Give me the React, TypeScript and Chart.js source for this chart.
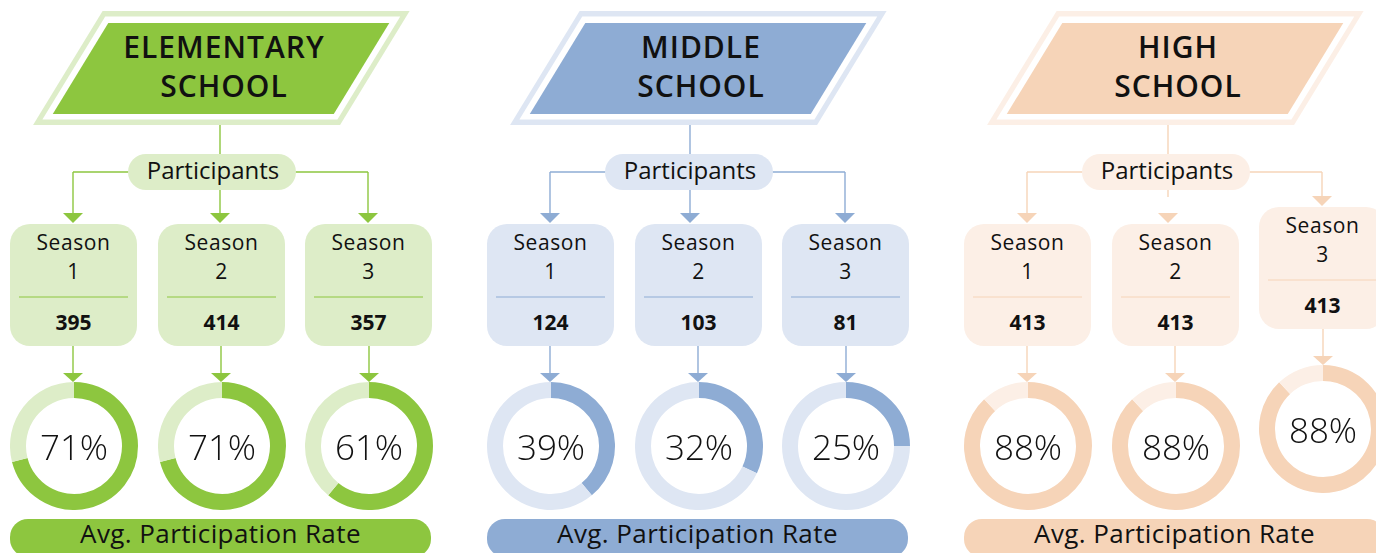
import React, { useEffect, useRef } from "react";
import { Chart, registerables } from "chart.js";

Chart.register(...registerables);

// ---------- data ----------
const schoolTitles = [
  ["ELEMENTARY", "SCHOOL"],
  ["MIDDLE", "SCHOOL"],
  ["HIGH", "SCHOOL"],
];
const seasonNumbers = ["1", "2", "3"];
const seasonWord = "Season";
const participantsLabel = "Participants";
const footerLabel = "Avg. Participation Rate";

const elementaryParticipants = [395, 414, 357];
const middleParticipants = [124, 103, 81];
const highParticipants = [413, 413, 413];

const elementaryRates = [71, 71, 61];
const middleRates = [39, 32, 25];
const highRates = [88, 88, 88];

const participantsBySchool = [elementaryParticipants, middleParticipants, highParticipants];
const ratesBySchool = [elementaryRates, middleRates, highRates];

// ---------- styles ----------
const palettes = [
  { dark: "#8DC63F", light: "#DDEDC8" },
  { dark: "#8EACD4", light: "#DEE6F3" },
  { dark: "#F6D4B8", light: "#FCEFE6" },
];
const FONT = "'Open Sans', 'DejaVu Sans', sans-serif";
const TEXT = "#111111";

const GROUP_DX = 477;
const stemX = [220, 213, 214];
const boxLeft = [10, 158, 305];
const BOX_W = 127;
const connX = [73, 0, 368];
const lowerX = [73, 221, 369];
const midStemEnd = [213, 213, 197];
const colShift = [
  [0, 0, 0],
  [0, 0, 0],
  [0, 0, -17],
];

function Donut(props: { value: number; dark: string; light: string; cx: number; cy: number }) {
  const { value, dark, light, cx, cy } = props;
  const ref = useRef<HTMLCanvasElement | null>(null);
  useEffect(() => {
    if (!ref.current) return;
    const chart = new Chart(ref.current, {
      type: "doughnut",
      data: {
        labels: ["Rate", "Rest"],
        datasets: [
          {
            data: [value, 100 - value],
            backgroundColor: [dark, light],
            borderWidth: 0,
          },
        ],
      },
      options: {
        responsive: false,
        animation: false,
        cutout: "75%",
        events: [],
        layout: { padding: 0 },
        plugins: { legend: { display: false }, tooltip: { enabled: false } },
      },
      plugins: [
        {
          id: "centerText",
          afterDraw(c: any) {
            const arc: any = c.getDatasetMeta(0).data[0];
            const ctx = c.ctx;
            ctx.save();
            ctx.font = `300 35px ${FONT}`;
            ctx.fillStyle = TEXT;
            ctx.textAlign = "center";
            ctx.textBaseline = "alphabetic";
            ctx.fillText(`${value}%`, arc.x, arc.y + 14);
            ctx.restore();
          },
        },
      ],
    });
    return () => chart.destroy();
  }, [value, dark, light]);
  const size = 128;
  return (
    <canvas
      ref={ref}
      width={size}
      height={size}
      style={{ position: "absolute", left: cx - size / 2, top: cy - size / 2, width: size, height: size }}
    />
  );
}

function slantPoly(top: number, bottom: number, left0: number, right0: number) {
  const k = 0.61;
  const xl = (y: number) => left0 - k * (y - 12);
  const xr = (y: number) => right0 - k * (y - 12);
  return `${xl(top)},${top} ${xr(top)},${top} ${xr(bottom)},${bottom} ${xl(bottom)},${bottom}`;
}

function Group(props: { g: number }) {
  const { g } = props;
  const gx = g * GROUP_DX;
  const p = palettes[g];
  const parts = participantsBySchool[g];
  const els: any[] = [];
  // header parallelogram
  els.push(<polygon key="po" points={slantPoly(11, 125, 102 + gx, 409 + gx)} fill={p.light} />);
  els.push(<polygon key="pw" points={slantPoly(16.5, 119.5, 108 + gx, 403 + gx)} fill="#ffffff" />);
  els.push(<polygon key="pi" points={slantPoly(23, 114, 115 + gx, 396 + gx)} fill={p.dark} />);
  els.push(
    <text key="t" textAnchor="middle" fontFamily={FONT} fontSize={30} fontWeight={600} fill={TEXT} letterSpacing={1}>
      <tspan x={224 + gx} y={58}>{schoolTitles[g][0]}</tspan>
      <tspan x={224 + gx} y={97}>{schoolTitles[g][1]}</tspan>
    </text>
  );
  // stem + pill
  els.push(<line key="stem" x1={stemX[g] + gx} y1={125} x2={stemX[g] + gx} y2={154} stroke={p.dark} strokeWidth={1.4} />);
  els.push(<line key="h1" x1={73 + gx} y1={172} x2={130 + gx} y2={172} stroke={p.dark} strokeWidth={1.4} />);
  els.push(<line key="h2" x1={294 + gx} y1={172} x2={368 + gx} y2={172} stroke={p.dark} strokeWidth={1.4} />);
  els.push(<line key="mid" x1={stemX[g] + gx} y1={190} x2={stemX[g] + gx} y2={midStemEnd[g]} stroke={p.dark} strokeWidth={1.4} />);
  els.push(<rect key="pill" x={128 + gx} y={154} width={168} height={36} rx={18} fill={p.light} />);
  els.push(
    <text key="pt" x={213 + gx} y={179} textAnchor="middle" fontFamily={FONT} fontSize={24} fill={TEXT}>
      {participantsLabel}
    </text>
  );
  for (let c = 0; c < 3; c++) {
    const s = colShift[g][c];
    const ax = (c === 1 ? stemX[g] : connX[c]) + gx;
    if (c !== 1) {
      els.push(<line key={`v${c}`} x1={ax} y1={172} x2={ax} y2={213 + s} stroke={p.dark} strokeWidth={1.4} />);
    }
    els.push(
      <polygon key={`a${c}`} points={`${ax - 10},${213 + s} ${ax + 10},${213 + s} ${ax},${223 + s}`} fill={p.dark} />
    );
    const bl = boxLeft[c] + gx;
    const bc = bl + BOX_W / 2;
    els.push(<rect key={`b${c}`} x={bl} y={224 + s} width={BOX_W} height={122} rx={20} fill={p.light} />);
    els.push(<line key={`d${c}`} x1={bl + 9} y1={297 + s} x2={bl + 118} y2={297 + s} stroke={p.dark} strokeWidth={1} />);
    els.push(
      <text key={`v2${c}`} x={bc} y={330 + s} textAnchor="middle" fontFamily={FONT} fontSize={21} fontWeight={700} fill={TEXT}>
        {String(parts[c])}
      </text>
    );
    const lx = lowerX[c] + gx;
    els.push(<line key={`l${c}`} x1={lx} y1={346 + s} x2={lx} y2={373 + s} stroke={p.dark} strokeWidth={1.4} />);
    els.push(
      <polygon key={`la${c}`} points={`${lx - 10},${373 + s} ${lx + 10},${373 + s} ${lx},${382 + s}`} fill={p.dark} />
    );
  }
  els.push(<rect key="foot" x={10 + gx} y={519} width={421} height={38} rx={18} fill={p.dark} />);
  els.push(
    <text key="ft" x={220.5 + gx} y={543} textAnchor="middle" fontFamily={FONT} fontSize={26} fill={TEXT} letterSpacing={0.4}>
      {footerLabel}
    </text>
  );
  return <g>{els}</g>;
}

function SeasonLabels() {
  const out: any[] = [];
  for (let g = 0; g < 3; g++) {
    for (let c = 0; c < 3; c++) {
      const s = colShift[g][c];
      out.push(
        <div
          key={`sl${g}${c}`}
          style={{
            position: "absolute",
            left: boxLeft[c] + g * GROUP_DX,
            top: 228 + s,
            width: BOX_W,
            textAlign: "center",
            fontFamily: FONT,
            fontSize: 21,
            lineHeight: "29px",
            letterSpacing: 0.6,
            color: TEXT,
          }}
        >
          {seasonWord}
          <br />
          {seasonNumbers[c]}
        </div>
      );
    }
  }
  return <>{out}</>;
}

export default function App() {
  const donuts: any[] = [];
  for (let g = 0; g < 3; g++) {
    for (let c = 0; c < 3; c++) {
      const cx = boxLeft[c] + BOX_W / 2 + g * GROUP_DX;
      const cy = 446 + colShift[g][c];
      donuts.push(
        <Donut key={`${g}-${c}`} value={ratesBySchool[g][c]} dark={palettes[g].dark} light={palettes[g].light} cx={cx} cy={cy} />
      );
    }
  }
  return (
    <div style={{ position: "absolute", left: 0, top: 0, width: 1376, height: 553, overflow: "hidden", background: "#ffffff" }}>
      <svg width={1376} height={553} style={{ position: "absolute", left: 0, top: 0 }}>
        <Group g={0} />
        <Group g={1} />
        <Group g={2} />
      </svg>
      <SeasonLabels />
      {donuts}
    </div>
  );
}
